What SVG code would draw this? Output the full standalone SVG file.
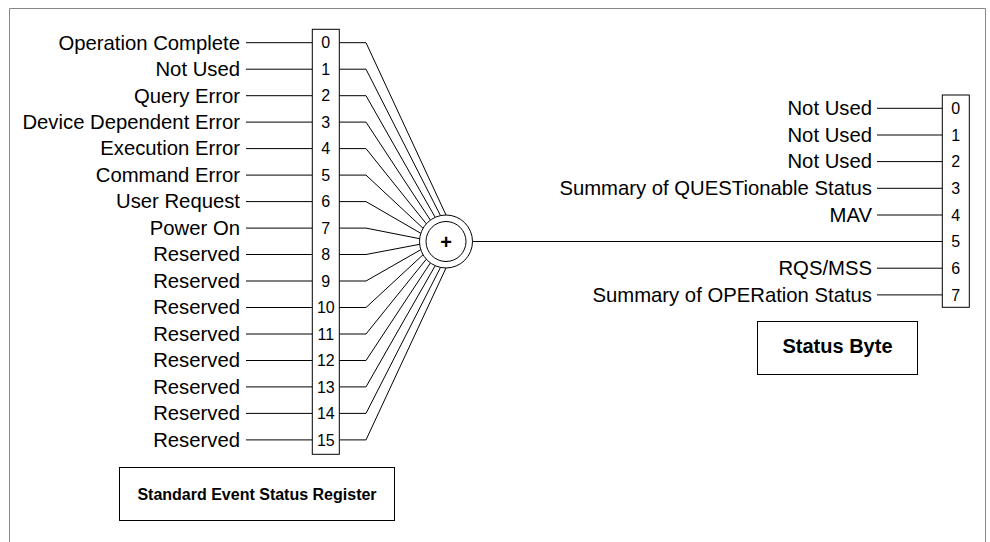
<svg xmlns="http://www.w3.org/2000/svg" width="990" height="542" viewBox="0 0 990 542">
<style>
.lbl{font-family:"Liberation Sans",Arial,sans-serif;font-size:20.3px;fill:#000;text-anchor:end}
.num{font-family:"Liberation Sans",Arial,sans-serif;font-size:16px;fill:#000;text-anchor:middle}
.ttl{font-family:"Liberation Sans",Arial,sans-serif;font-weight:bold;fill:#000;text-anchor:middle}
.box{fill:#fff;stroke:#000;stroke-width:1}
.ln{fill:none;stroke:#000;stroke-width:1}
</style>
<rect width="990" height="542" fill="#fff"/>
<path d="M9.5 542 V8.5 H985.5 V542" fill="none" stroke="#888" stroke-width="1"/>

<g id="connectors">
<path class="ln" d="M246 42.7H312.3M246 69.2H312.3M246 95.7H312.3M246 122.1H312.3M246 148.6H312.3M246 175.1H312.3M246 201.6H312.3M246 228.1H312.3M246 254.5H312.3M246 281H312.3M246 307.5H312.3M246 334H312.3M246 360.5H312.3M246 386.9H312.3M246 413.4H312.3M246 439.9H312.3"/>
<polyline class="ln" points="339.3,42.7 366,42.7 446,215"/>
<polyline class="ln" points="339.3,69.2 366,69.2 440.5,215.6"/>
<polyline class="ln" points="339.3,95.7 366,95.7 435.2,217.3"/>
<polyline class="ln" points="339.3,122.1 366,122.1 430.4,220.1"/>
<polyline class="ln" points="339.3,148.6 366,148.6 426.3,223.8"/>
<polyline class="ln" points="339.3,175.1 366,175.1 423.1,228.3"/>
<polyline class="ln" points="339.3,201.6 366,201.6 420.8,233.3"/>
<polyline class="ln" points="339.3,228.1 366,228.1 419.7,238.7"/>
<polyline class="ln" points="339.3,254.5 366,254.5 419.7,244.3"/>
<polyline class="ln" points="339.3,281 366,281 420.8,249.7"/>
<polyline class="ln" points="339.3,307.5 366,307.5 423.1,254.7"/>
<polyline class="ln" points="339.3,334 366,334 426.3,259.2"/>
<polyline class="ln" points="339.3,360.5 366,360.5 430.4,262.9"/>
<polyline class="ln" points="339.3,386.9 366,386.9 435.2,265.7"/>
<polyline class="ln" points="339.3,413.4 366,413.4 440.5,267.4"/>
<polyline class="ln" points="339.3,439.9 366,439.9 446,268"/>
<path class="ln" d="M472.5 241.5H942.3"/>
<path class="ln" d="M877 108.3H942.3M877 135H942.3M877 161.6H942.3M877 188.3H942.3M877 215H942.3M877 268.2H942.3M877 294.9H942.3"/>
</g>

<g id="sesr-register">
<rect class="box" x="312.3" y="29.3" width="27" height="425"/>
<text class="num" x="325.8" y="48.4">0</text>
<text class="num" x="325.8" y="74.9">1</text>
<text class="num" x="325.8" y="101.4">2</text>
<text class="num" x="325.8" y="127.8">3</text>
<text class="num" x="325.8" y="154.3">4</text>
<text class="num" x="325.8" y="180.8">5</text>
<text class="num" x="325.8" y="207.3">6</text>
<text class="num" x="325.8" y="233.8">7</text>
<text class="num" x="325.8" y="260.2">8</text>
<text class="num" x="325.8" y="286.7">9</text>
<text class="num" x="325.8" y="313.2">10</text>
<text class="num" x="325.8" y="339.7">11</text>
<text class="num" x="325.8" y="366.2">12</text>
<text class="num" x="325.8" y="392.6">13</text>
<text class="num" x="325.8" y="419.1">14</text>
<text class="num" x="325.8" y="445.6">15</text>
</g>

<g id="sesr-labels">
<text class="lbl" x="240" y="49.5">Operation Complete</text>
<text class="lbl" x="240" y="76">Not Used</text>
<text class="lbl" x="240" y="102.5">Query Error</text>
<text class="lbl" x="240" y="128.9">Device Dependent Error</text>
<text class="lbl" x="240" y="155.4">Execution Error</text>
<text class="lbl" x="240" y="181.9">Command Error</text>
<text class="lbl" x="240" y="208.4">User Request</text>
<text class="lbl" x="240" y="234.9">Power On</text>
<text class="lbl" x="240" y="261.3">Reserved</text>
<text class="lbl" x="240" y="287.8">Reserved</text>
<text class="lbl" x="240" y="314.3">Reserved</text>
<text class="lbl" x="240" y="340.8">Reserved</text>
<text class="lbl" x="240" y="367.3">Reserved</text>
<text class="lbl" x="240" y="393.7">Reserved</text>
<text class="lbl" x="240" y="420.2">Reserved</text>
<text class="lbl" x="240" y="446.7">Reserved</text>
</g>

<g id="summing-junction">
<circle cx="446" cy="241.5" r="26.5" fill="#fff" stroke="#000" stroke-width="1"/>
<circle cx="446" cy="241.5" r="20" fill="none" stroke="#000" stroke-width="1"/>
<text class="ttl" x="446" y="248.5" font-size="20">+</text>
</g>

<g id="status-byte-register">
<rect class="box" x="942.3" y="95" width="27" height="212.3"/>
<text class="num" x="955.8" y="114">0</text>
<text class="num" x="955.8" y="140.7">1</text>
<text class="num" x="955.8" y="167.3">2</text>
<text class="num" x="955.8" y="194">3</text>
<text class="num" x="955.8" y="220.7">4</text>
<text class="num" x="955.8" y="247.3">5</text>
<text class="num" x="955.8" y="273.9">6</text>
<text class="num" x="955.8" y="300.6">7</text>
</g>

<g id="status-byte-labels">
<text class="lbl" x="872" y="115.1">Not Used</text>
<text class="lbl" x="872" y="141.8">Not Used</text>
<text class="lbl" x="872" y="168.4">Not Used</text>
<text class="lbl" x="872" y="195.1">Summary of QUESTionable Status</text>
<text class="lbl" x="872" y="221.8">MAV</text>
<text class="lbl" x="872" y="275">RQS/MSS</text>
<text class="lbl" x="872" y="301.7">Summary of OPERation Status</text>
</g>

<g id="sesr-title">
<rect class="box" x="119.5" y="467.5" width="275" height="53"/>
<text class="ttl" x="257" y="499.5" font-size="16">Standard Event Status Register</text>
</g>

<g id="status-byte-title">
<rect class="box" x="757.5" y="321.5" width="160" height="53"/>
<text class="ttl" x="837.5" y="353.3" font-size="20">Status Byte</text>
</g>
</svg>
